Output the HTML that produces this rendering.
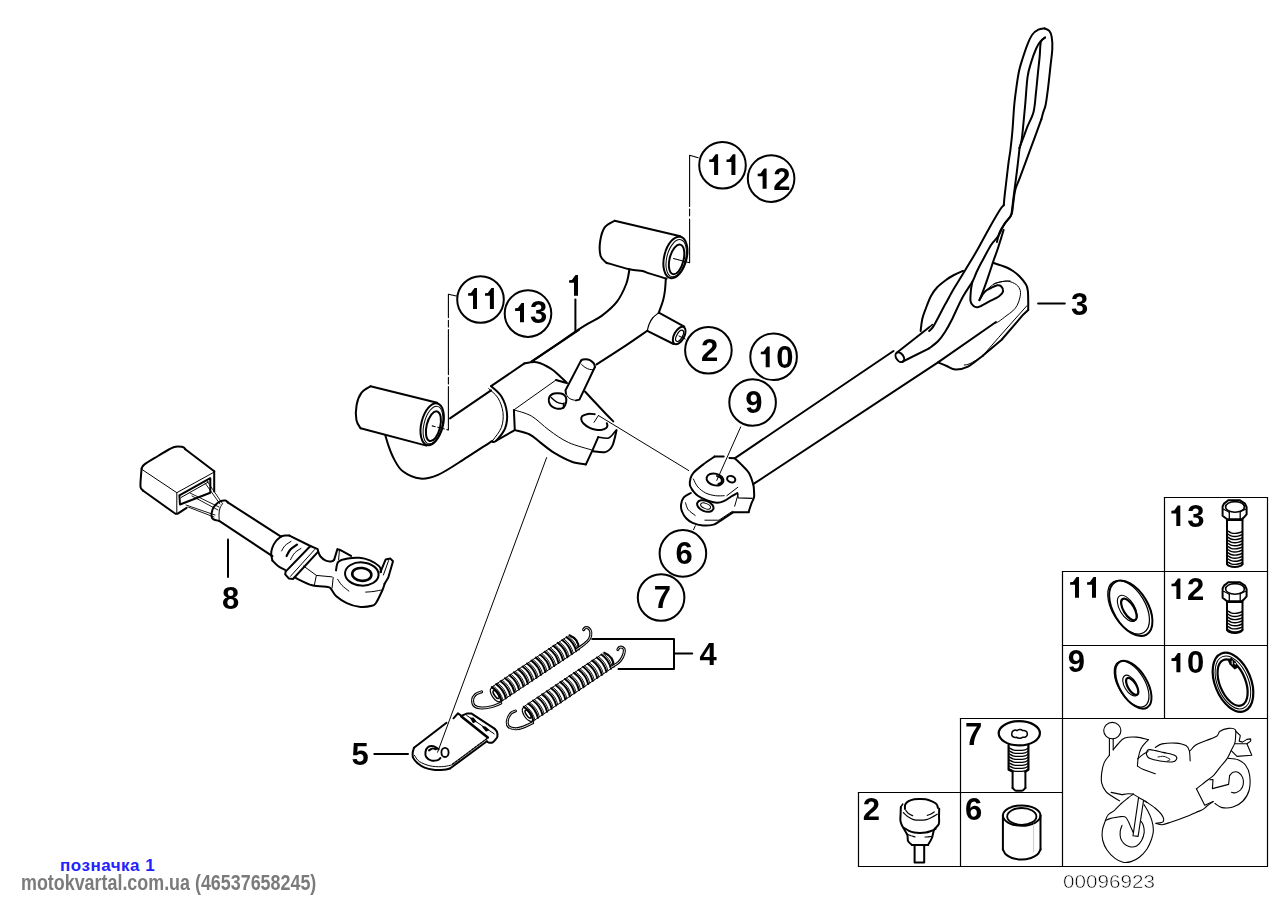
<!DOCTYPE html>
<html><head><meta charset="utf-8"><style>
html,body{margin:0;padding:0;background:#fff;width:1287px;height:911px;overflow:hidden}
svg{display:block;position:absolute;left:0;top:0;filter:grayscale(1)}
.t1{position:absolute;left:60px;top:856px;font:bold 17px "Liberation Sans",sans-serif;color:#2222ff;white-space:nowrap;letter-spacing:0.5px;line-height:20px}
.t2{position:absolute;left:21px;top:871px;font:bold 21.5px "Liberation Sans",sans-serif;color:#7b7b7b;white-space:nowrap;transform:scaleX(0.832);transform-origin:0 0;line-height:25px;filter:grayscale(1)}
</style></head><body>
<svg width="1287" height="911" viewBox="0 0 1287 911">
<g fill="none" stroke="#000" stroke-linejoin="round" stroke-linecap="round">
<line x1="1164.5" y1="497.5" x2="1267.5" y2="497.5" stroke-width="1.2"/>
<line x1="1062.5" y1="571.5" x2="1267.5" y2="571.5" stroke-width="1.2"/>
<line x1="1062.5" y1="645.5" x2="1267.5" y2="645.5" stroke-width="1.2"/>
<line x1="960.5" y1="718.5" x2="1267.5" y2="718.5" stroke-width="1.2"/>
<line x1="858.5" y1="792.5" x2="1062.5" y2="792.5" stroke-width="1.2"/>
<line x1="858.5" y1="866.5" x2="1267.5" y2="866.5" stroke-width="1.2"/>
<line x1="1267.5" y1="497.5" x2="1267.5" y2="866.5" stroke-width="1.2"/>
<line x1="1164.5" y1="497.5" x2="1164.5" y2="718.5" stroke-width="1.2"/>
<line x1="1062.5" y1="571.5" x2="1062.5" y2="866.5" stroke-width="1.2"/>
<line x1="960.5" y1="718.5" x2="960.5" y2="866.5" stroke-width="1.2"/>
<line x1="858.5" y1="792.5" x2="858.5" y2="866.5" stroke-width="1.2"/>
<path d="M1177.8,505.5 L1180.3,505.5 L1180.3,526 L1176.3,526 L1176.3,513.4 L1171.4,513.4 L1171.4,510.8 L1174.2,510.6Z" fill="#000" stroke="none"/>
<path d="M1076.5,576.9 L1079,576.9 L1079,597.8 L1075,597.8 L1075,584.8 L1070.1,584.8 L1070.1,582.2 L1072.9,582Z" fill="#000" stroke="none"/>
<path d="M1093.5,576.9 L1096,576.9 L1096,597.8 L1092,597.8 L1092,584.8 L1087.1,584.8 L1087.1,582.2 L1089.9,582Z" fill="#000" stroke="none"/>
<path d="M1177.9,578.4 L1180.4,578.4 L1180.4,599 L1176.4,599 L1176.4,586.3 L1171.5,586.3 L1171.5,583.7 L1174.3,583.5Z" fill="#000" stroke="none"/>
<path d="M1177.9,653 L1180.4,653 L1180.4,672.3 L1176.4,672.3 L1176.4,660.9 L1171.5,660.9 L1171.5,658.3 L1174.3,658.1Z" fill="#000" stroke="none"/>
<path d="M1222.6,506.5 L1224,503.6 L1228.3,500.3 L1240,500.3 L1245,503.6 L1246.6,507.2 L1246.6,514.3 L1243.5,517.9 L1241.4,519.3 L1227.1,519.3 L1222.6,515.7Z" stroke-width="2" fill="none"/>
<ellipse cx="1235" cy="506.9" rx="9.4" ry="5.3" stroke-width="1.6" fill="none"/>
<line x1="1229.3" y1="512.2" x2="1229.3" y2="519" stroke-width="1.3"/>
<line x1="1240.2" y1="511.6" x2="1240.2" y2="519" stroke-width="1.3"/>
<line x1="1223.6" y1="509.3" x2="1229.3" y2="512.2" stroke-width="1.2"/>
<line x1="1240.2" y1="511.6" x2="1245.7" y2="509.3" stroke-width="1.2"/>
<path d="M1227,519.5 L1227,564" stroke-width="2" fill="none"/>
<path d="M1242.5,519.5 L1242.5,564" stroke-width="2" fill="none"/>
<path d="M1227,564 C1227.3,564.3 1227.7,565.4 1229,565.9 C1230.3,566.4 1232.9,567 1234.8,567 C1236.7,567 1239.2,566.4 1240.5,565.9 C1241.8,565.4 1242.2,564.3 1242.5,564" stroke-width="2" fill="none"/>
<line x1="1227" y1="520.2" x2="1242.5" y2="520.2" stroke-width="1.6"/>
<path d="M1228,531 C1228.5,531.3 1229.8,532.4 1231,532.8 C1232.2,533.2 1233.7,533.4 1235,533.4 C1236.3,533.4 1237.8,533.1 1239,532.8 C1240.2,532.5 1241.5,531.8 1242,531.6" stroke-width="1.4" fill="none"/>
<path d="M1228,534.1 C1228.5,534.4 1229.8,535.5 1231,535.9 C1232.2,536.3 1233.7,536.5 1235,536.5 C1236.3,536.5 1237.8,536.2 1239,535.9 C1240.2,535.6 1241.5,534.9 1242,534.7" stroke-width="1.4" fill="none"/>
<path d="M1228,537.2 C1228.5,537.5 1229.8,538.6 1231,539 C1232.2,539.4 1233.7,539.6 1235,539.6 C1236.3,539.6 1237.8,539.3 1239,539 C1240.2,538.7 1241.5,538 1242,537.8" stroke-width="1.4" fill="none"/>
<path d="M1228,540.3 C1228.5,540.6 1229.8,541.7 1231,542.1 C1232.2,542.5 1233.7,542.7 1235,542.7 C1236.3,542.7 1237.8,542.4 1239,542.1 C1240.2,541.8 1241.5,541.1 1242,540.9" stroke-width="1.4" fill="none"/>
<path d="M1228,543.4 C1228.5,543.7 1229.8,544.8 1231,545.2 C1232.2,545.6 1233.7,545.8 1235,545.8 C1236.3,545.8 1237.8,545.5 1239,545.2 C1240.2,544.9 1241.5,544.2 1242,544" stroke-width="1.4" fill="none"/>
<path d="M1228,546.5 C1228.5,546.8 1229.8,547.9 1231,548.3 C1232.2,548.7 1233.7,548.9 1235,548.9 C1236.3,548.9 1237.8,548.6 1239,548.3 C1240.2,548 1241.5,547.3 1242,547.1" stroke-width="1.4" fill="none"/>
<path d="M1228,549.6 C1228.5,549.9 1229.8,551 1231,551.4 C1232.2,551.8 1233.7,552 1235,552 C1236.3,552 1237.8,551.7 1239,551.4 C1240.2,551.1 1241.5,550.4 1242,550.2" stroke-width="1.4" fill="none"/>
<path d="M1228,552.7 C1228.5,553 1229.8,554.1 1231,554.5 C1232.2,554.9 1233.7,555.1 1235,555.1 C1236.3,555.1 1237.8,554.8 1239,554.5 C1240.2,554.2 1241.5,553.5 1242,553.3" stroke-width="1.4" fill="none"/>
<path d="M1228,555.8 C1228.5,556.1 1229.8,557.2 1231,557.6 C1232.2,558 1233.7,558.2 1235,558.2 C1236.3,558.2 1237.8,557.9 1239,557.6 C1240.2,557.3 1241.5,556.6 1242,556.4" stroke-width="1.4" fill="none"/>
<path d="M1228,558.9 C1228.5,559.2 1229.8,560.3 1231,560.7 C1232.2,561.1 1233.7,561.3 1235,561.3 C1236.3,561.3 1237.8,561 1239,560.7 C1240.2,560.4 1241.5,559.7 1242,559.5" stroke-width="1.4" fill="none"/>
<path d="M1228,562 C1228.5,562.3 1229.8,563.4 1231,563.8 C1232.2,564.2 1233.7,564.4 1235,564.4 C1236.3,564.4 1237.8,564.1 1239,563.8 C1240.2,563.5 1241.5,562.8 1242,562.6" stroke-width="1.4" fill="none"/>
<path d="M1222.6,588.5 L1224,585.6 L1228.3,582.3 L1240,582.3 L1245,585.6 L1246.6,589.2 L1246.6,596.3 L1243.5,599.9 L1241.4,601.3 L1227.1,601.3 L1222.6,597.7Z" stroke-width="2" fill="none"/>
<ellipse cx="1235" cy="588.9" rx="9.4" ry="5.3" stroke-width="1.6" fill="none"/>
<line x1="1229.3" y1="594.2" x2="1229.3" y2="601" stroke-width="1.3"/>
<line x1="1240.2" y1="593.6" x2="1240.2" y2="601" stroke-width="1.3"/>
<line x1="1223.6" y1="591.3" x2="1229.3" y2="594.2" stroke-width="1.2"/>
<line x1="1240.2" y1="593.6" x2="1245.7" y2="591.3" stroke-width="1.2"/>
<path d="M1227,601.5 L1227,629.9" stroke-width="2" fill="none"/>
<path d="M1242.5,601.5 L1242.5,629.9" stroke-width="2" fill="none"/>
<path d="M1227,629.9 C1227.3,630.2 1227.7,631.3 1229,631.8 C1230.3,632.3 1232.9,632.9 1234.8,632.9 C1236.7,632.9 1239.2,632.3 1240.5,631.8 C1241.8,631.3 1242.2,630.2 1242.5,629.9" stroke-width="2" fill="none"/>
<line x1="1227" y1="602.2" x2="1242.5" y2="602.2" stroke-width="1.6"/>
<path d="M1228,611 C1228.5,611.3 1229.8,612.4 1231,612.8 C1232.2,613.2 1233.7,613.4 1235,613.4 C1236.3,613.4 1237.8,613.1 1239,612.8 C1240.2,612.5 1241.5,611.8 1242,611.6" stroke-width="1.4" fill="none"/>
<path d="M1228,614.1 C1228.5,614.4 1229.8,615.5 1231,615.9 C1232.2,616.3 1233.7,616.5 1235,616.5 C1236.3,616.5 1237.8,616.2 1239,615.9 C1240.2,615.6 1241.5,614.9 1242,614.7" stroke-width="1.4" fill="none"/>
<path d="M1228,617.2 C1228.5,617.5 1229.8,618.6 1231,619 C1232.2,619.4 1233.7,619.6 1235,619.6 C1236.3,619.6 1237.8,619.3 1239,619 C1240.2,618.7 1241.5,618 1242,617.8" stroke-width="1.4" fill="none"/>
<path d="M1228,620.3 C1228.5,620.6 1229.8,621.7 1231,622.1 C1232.2,622.5 1233.7,622.7 1235,622.7 C1236.3,622.7 1237.8,622.4 1239,622.1 C1240.2,621.8 1241.5,621.1 1242,620.9" stroke-width="1.4" fill="none"/>
<path d="M1228,623.4 C1228.5,623.7 1229.8,624.8 1231,625.2 C1232.2,625.6 1233.7,625.8 1235,625.8 C1236.3,625.8 1237.8,625.5 1239,625.2 C1240.2,624.9 1241.5,624.2 1242,624" stroke-width="1.4" fill="none"/>
<path d="M1228,626.5 C1228.5,626.8 1229.8,627.9 1231,628.3 C1232.2,628.7 1233.7,628.9 1235,628.9 C1236.3,628.9 1237.8,628.6 1239,628.3 C1240.2,628 1241.5,627.3 1242,627.1" stroke-width="1.4" fill="none"/>
<path d="M1228,629.6 C1228.5,629.9 1229.8,631 1231,631.4 C1232.2,631.8 1233.7,632 1235,632 C1236.3,632 1237.8,631.7 1239,631.4 C1240.2,631.1 1241.5,630.4 1242,630.2" stroke-width="1.4" fill="none"/>
<ellipse cx="1130.8" cy="608.3" rx="17.3" ry="30.6" stroke-width="2" fill="none" transform="rotate(-31 1130.8 608.3)"/>
<ellipse cx="1128.6" cy="607.2" rx="16.6" ry="29.6" stroke-width="1.2" fill="none" transform="rotate(-31 1128.6 607.2)"/>
<ellipse cx="1127.2" cy="608.4" rx="7.4" ry="14.6" stroke-width="1.1" fill="none" transform="rotate(-31 1127.2 608.4)"/>
<ellipse cx="1128.9" cy="609.4" rx="5.4" ry="12.2" stroke-width="2.2" fill="none" transform="rotate(-31 1128.9 609.4)"/>
<ellipse cx="1133.4" cy="684.8" rx="13.8" ry="26.6" stroke-width="2" fill="none" transform="rotate(-31 1133.4 684.8)"/>
<ellipse cx="1131.6" cy="684" rx="13.2" ry="25.6" stroke-width="1.2" fill="none" transform="rotate(-31 1131.6 684)"/>
<ellipse cx="1130.6" cy="685.6" rx="6" ry="11.6" stroke-width="1.1" fill="none" transform="rotate(-31 1130.6 685.6)"/>
<ellipse cx="1132.2" cy="686.4" rx="4.2" ry="9.6" stroke-width="2.2" fill="none" transform="rotate(-31 1132.2 686.4)"/>
<ellipse cx="1233" cy="682.2" rx="18" ry="31" stroke-width="2.2" fill="none" transform="rotate(-22 1233 682.2)"/>
<ellipse cx="1232.6" cy="682.6" rx="12.9" ry="24.4" stroke-width="2.2" fill="none" transform="rotate(-22 1232.6 682.6)"/>
<ellipse cx="1232.9" cy="682.4" rx="15.6" ry="27.8" stroke-width="1.0" fill="none" transform="rotate(-22 1232.9 682.4)"/>
<path d="M1227.4,659.6 L1231.4,657.8 L1235.6,661.4 L1238.2,667.6 L1234.6,669.6 L1229.6,664.6 Z" fill="#000" stroke="none"/>
<path d="M1231.6,660.8 L1232.6,660.6 L1232.8,664.4 L1231.8,664.2 Z M1234.4,662.4 L1236,663.4 L1235.8,664.8 L1234.4,664 Z" fill="#fff" stroke="none"/>
<ellipse cx="1019.3" cy="733.3" rx="20.6" ry="12.1" stroke-width="2.2" fill="none"/>
<path d="M1008.6,745 L1008.6,769.8 L1012.6,771.6" stroke-width="2.2" fill="none"/>
<path d="M1028.4,745 L1028.4,769.8 L1025.4,771.6" stroke-width="2.2" fill="none"/>
<path d="M1009.5,748 C1010.1,748.3 1011.4,749.4 1013,749.8 C1014.6,750.2 1017,750.4 1019,750.4 C1021,750.4 1023.6,750.1 1025,749.8 C1026.4,749.5 1027.2,748.6 1027.6,748.4" stroke-width="1.3" fill="none"/>
<path d="M1009.5,751 C1010.1,751.3 1011.4,752.4 1013,752.8 C1014.6,753.2 1017,753.4 1019,753.4 C1021,753.4 1023.6,753.1 1025,752.8 C1026.4,752.5 1027.2,751.6 1027.6,751.4" stroke-width="1.3" fill="none"/>
<path d="M1009.5,754 C1010.1,754.3 1011.4,755.4 1013,755.8 C1014.6,756.2 1017,756.4 1019,756.4 C1021,756.4 1023.6,756.1 1025,755.8 C1026.4,755.5 1027.2,754.6 1027.6,754.4" stroke-width="1.3" fill="none"/>
<path d="M1009.5,757 C1010.1,757.3 1011.4,758.4 1013,758.8 C1014.6,759.2 1017,759.4 1019,759.4 C1021,759.4 1023.6,759.1 1025,758.8 C1026.4,758.5 1027.2,757.6 1027.6,757.4" stroke-width="1.3" fill="none"/>
<path d="M1009.5,760 C1010.1,760.3 1011.4,761.4 1013,761.8 C1014.6,762.2 1017,762.4 1019,762.4 C1021,762.4 1023.6,762.1 1025,761.8 C1026.4,761.5 1027.2,760.6 1027.6,760.4" stroke-width="1.3" fill="none"/>
<path d="M1009.5,763 C1010.1,763.3 1011.4,764.4 1013,764.8 C1014.6,765.2 1017,765.4 1019,765.4 C1021,765.4 1023.6,765.1 1025,764.8 C1026.4,764.5 1027.2,763.6 1027.6,763.4" stroke-width="1.3" fill="none"/>
<path d="M1009.5,766 C1010.1,766.3 1011.4,767.4 1013,767.8 C1014.6,768.2 1017,768.4 1019,768.4 C1021,768.4 1023.6,768.1 1025,767.8 C1026.4,767.5 1027.2,766.6 1027.6,766.4" stroke-width="1.3" fill="none"/>
<path d="M1009.5,769 C1010.1,769.3 1011.4,770.4 1013,770.8 C1014.6,771.2 1017,771.4 1019,771.4 C1021,771.4 1023.6,771.1 1025,770.8 C1026.4,770.5 1027.2,769.6 1027.6,769.4" stroke-width="1.3" fill="none"/>
<path d="M1012.6,771.4 L1012.6,788" stroke-width="2" fill="none"/>
<path d="M1025.4,771.4 L1025.4,788" stroke-width="2" fill="none"/>
<path d="M1012.6,788 C1013,788.4 1013.9,789.8 1015,790.3 C1016.1,790.8 1017.7,790.8 1019,790.8 C1020.3,790.8 1021.9,790.8 1023,790.3 C1024.1,789.8 1025,788.4 1025.4,788" stroke-width="2" fill="none"/>
<path d="M1011.8,733.6 C1011.8,730.5 1015,729.4 1017,730.6 C1018,729.2 1021.5,729 1022.5,730.6 C1025,729.8 1027.6,731.6 1027.2,733.8 C1027.8,736 1025,737.8 1022.6,737.2 C1021.5,738.6 1018,738.8 1016.8,737.2 C1014.2,738 1011.2,736.4 1011.8,733.6 Z" stroke-width="1.5" fill="none"/>
<path d="M900.8,807 C900.8,808.2 900.7,811.8 900.6,814 C900.5,816.2 900.2,818.5 900.4,820.3 C900.6,822.1 901.1,823.3 901.6,824.6 C902.1,825.9 902.5,826.3 903.4,828 C904.3,829.7 906.5,832.7 907.3,834.9 C908.1,837.1 907.3,839.4 908.1,841.1 C908.9,842.8 911.3,844.3 911.9,844.9" stroke-width="2" fill="none"/>
<path d="M939.2,808.8 C939.2,810 939.1,813.4 939,816 C938.9,818.6 939.6,821.9 938.8,824.2 C938,826.5 935.4,827.3 934.2,829.6 C933.1,831.9 932.9,835.5 931.9,838 C930.9,840.5 928.6,843.8 928,844.9" stroke-width="2" fill="none"/>
<path d="M911.9,844.9 L928,844.9" stroke-width="2" fill="none"/>
<path d="M905,809 C905,808.3 904.6,805.9 905.2,804.6 C905.8,803.3 907.1,802.1 908.6,801.2 C910.1,800.3 912.3,799.6 914.2,799.2 C916.1,798.8 918.1,798.9 920,798.9 C921.9,798.9 923.7,798.8 925.7,799.2 C927.7,799.6 930.2,800.6 932,801.4 C933.8,802.2 935.5,803.1 936.5,804.2 C937.5,805.3 937.8,807.4 938,808" stroke-width="2" fill="none"/>
<path d="M900.8,807 L902.8,804" stroke-width="1.4" fill="none"/>
<path d="M905.8,810.4 C906.3,810.9 907.5,812.7 908.6,813.6 C909.8,814.5 912,815.4 912.7,815.7" stroke-width="1.2" fill="none"/>
<path d="M927.3,815.4 C927.9,815.2 929.9,814.6 931,814 C932.1,813.4 933.7,812.2 934.2,811.9" stroke-width="1.2" fill="none"/>
<path d="M903.4,812.7 C904.2,813.4 906.3,815.6 908,816.8 C909.7,817.9 911.4,819 913.4,819.6 C915.4,820.2 917.8,820.2 920,820.2 C922.2,820.2 924.5,820.1 926.5,819.6 C928.5,819.1 930.2,818.1 932,817.2 C933.8,816.3 936.3,814.7 937.2,814.2" stroke-width="1.2" fill="none"/>
<path d="M904.2,828 C905,828.5 907.3,830 909,830.8 C910.7,831.6 912.4,832.2 914.2,832.6 C916,833 918.1,833 920,833 C921.9,833 923.9,832.9 925.7,832.6 C927.5,832.3 929.3,831.6 931,831 C932.7,830.4 934.9,829.2 935.7,828.8" stroke-width="2" fill="none"/>
<path d="M907.3,834.2 C907.9,834.5 909.7,835.3 911,835.8 C912.3,836.2 914.3,836.7 915,836.9" stroke-width="1.2" fill="none"/>
<path d="M925,837 C925.6,837 927.4,836.9 928.4,836.8 C929.4,836.7 930.6,836.5 931.1,836.5" stroke-width="1.2" fill="none"/>
<path d="M914.6,845 L914.6,862.4 L924.2,862.4 L924.2,845" stroke-width="2" fill="none"/>
<ellipse cx="1021.7" cy="815.6" rx="18.8" ry="10.2" stroke-width="2" fill="none"/>
<ellipse cx="1021.8" cy="816.4" rx="14.6" ry="8.4" stroke-width="1.8" fill="none"/>
<path d="M1002.9,815.6 L1002.9,849.4" stroke-width="2" fill="none"/>
<path d="M1040.5,815.6 L1040.5,849.4" stroke-width="2" fill="none"/>
<path d="M1002.9,849.4 C1003.4,850.3 1004.5,853.2 1006,854.6 C1007.5,856 1009.4,857.2 1012,858 C1014.6,858.8 1018.6,859.6 1021.8,859.6 C1025,859.6 1028.4,858.8 1031,858 C1033.6,857.2 1035.8,856 1037.4,854.6 C1039,853.2 1040,850.3 1040.5,849.4" stroke-width="2" fill="none"/>
<line x1="1033.6" y1="824" x2="1033.6" y2="852" stroke-width="0.8" stroke="#bbb"/>
<ellipse cx="1112.3" cy="730.6" rx="8.6" ry="8.2" stroke-width="1.1" fill="none"/>
<line x1="1109.4" y1="738.6" x2="1109.4" y2="755.2" stroke-width="1.1"/>
<line x1="1113.2" y1="739.2" x2="1113.2" y2="749.8" stroke-width="1.1"/>
<path d="M1113.2,749.8 C1114,748.8 1116.1,746 1118,744 C1119.9,742 1121.6,739.1 1124.7,738 C1127.8,736.9 1132.6,736.8 1136.6,737.1 C1140.6,737.4 1146.5,739.3 1148.5,739.7" stroke-width="1.1" fill="none"/>
<path d="M1148.5,739.7 C1147.9,740.3 1146.4,741.6 1145.1,743.1 C1143.8,744.6 1141.9,746.6 1140.8,749 C1139.7,751.4 1138.9,754.7 1138.3,757.5 C1137.7,760.3 1137.6,764.6 1137.4,766" stroke-width="1.1" fill="none"/>
<path d="M1137.4,766 C1138.4,766.6 1140.4,768.2 1143.4,769.5 C1146.4,770.8 1153.3,773 1155.3,773.7" stroke-width="1.1" fill="none"/>
<path d="M1109.4,755.2 C1108.5,756.4 1105.5,759.7 1104.2,762.6 C1102.9,765.5 1102.1,769.5 1101.7,772.9 C1101.3,776.3 1101,780 1101.7,783.1 C1102.4,786.2 1104.2,789.3 1106,791.6 C1107.8,793.9 1110.5,795.2 1112.8,796.7 C1115.1,798.2 1118.5,800.2 1119.6,800.9" stroke-width="1.1" fill="none"/>
<path d="M1147,751 C1147.5,750.8 1147.3,749.4 1150,749.6 C1152.7,749.8 1158.8,751.4 1163,752.4 C1167.2,753.4 1172.8,754.2 1175,755.4 C1177.2,756.6 1176.9,758.5 1176.4,759.6 C1175.9,760.7 1174.7,761.8 1172,762 C1169.3,762.2 1163.7,761.6 1160,761 C1156.3,760.4 1152.2,759.6 1150,758.6 C1147.8,757.6 1147.1,756.3 1146.6,755 C1146.1,753.7 1146.9,751.7 1147,751" stroke-width="1.1" fill="none"/>
<path d="M1155.3,747.4 C1156.4,746.8 1158.7,744.6 1162.1,743.9 C1165.5,743.2 1171.7,742.8 1175.7,743.1 C1179.7,743.4 1183.6,744.3 1185.9,745.6 C1188.2,746.9 1188.6,748.2 1189.3,750.7 C1190,753.2 1190,759.2 1190.2,760.9" stroke-width="1.1" fill="none"/>
<path d="M1137.6,759 C1138.5,758.2 1141.3,755.6 1143,754.4 C1144.7,753.2 1147.2,752.1 1148,751.6" stroke-width="1.1" fill="none"/>
<path d="M1158,757 C1159,756.9 1162,756 1164,756.4 C1166,756.8 1169.5,758.6 1170,759.4 C1170.5,760.2 1167.5,760.9 1167,761.2" stroke-width="0.9" fill="none"/>
<path d="M1190.2,750.7 C1191.2,749.7 1193.4,746.5 1196.1,744.8 C1198.8,743.1 1203,741.9 1206.4,740.5 C1209.8,739.1 1214.3,737.8 1216.6,736.3 C1218.9,734.8 1218,732.5 1220,731.2 C1222,729.9 1226,728.7 1228.5,728.4 C1231,728.1 1234,728.3 1235.2,729.6 C1236.4,730.9 1235.7,733.7 1235.6,736 C1235.5,738.3 1235.5,740.9 1234.8,743.2 C1234.1,745.5 1232.8,747.2 1231.5,749.8 C1230.2,752.4 1229,755.7 1227.1,758.6 C1225.2,761.5 1222.2,764.6 1220,767.4 C1217.8,770.1 1215.8,773.1 1213.9,775.1 C1212,777.1 1211.3,777.2 1208.4,779.5 C1205.5,781.8 1198.4,787.2 1196.4,788.8" stroke-width="1.1" fill="none"/>
<path d="M1196.4,788.8 L1204.7,805.2 L1213.2,801.6" stroke-width="1.1" fill="none"/>
<path d="M1235.6,731 L1240.3,735.6 L1239.2,741.1 L1242.5,742.1 L1246.9,739.4 L1250.7,738.9 L1250.7,741.1 L1246.9,743.8 L1251.8,755.3 L1237,756.4 L1231.5,750.9" stroke-width="1.1" fill="none"/>
<path d="M1234.8,743.8 L1246.9,743.8" stroke-width="1.1" fill="none"/>
<path d="M1228.5,758.4 C1230.1,758.6 1235.2,758.7 1238,759.8 C1240.8,760.9 1243.5,762.5 1245.4,765 C1247.3,767.5 1249,770.8 1249.6,775 C1250.2,779.2 1250.3,785.7 1249.2,790 C1248.1,794.3 1245.7,798.2 1243,801 C1240.3,803.8 1236.5,805.9 1233,807 C1229.5,808.1 1225,808.2 1222,807.6 C1219,807 1216.1,804.2 1214.9,803.5" stroke-width="1.1" fill="none"/>
<path d="M1229.6,775.6 C1230.2,775 1231.5,772.7 1233,772.2 C1234.5,771.7 1236.8,771.5 1238.4,772.4 C1240,773.3 1241.8,775.4 1242.6,777.4 C1243.4,779.4 1243.6,782.5 1243.2,784.6 C1242.8,786.7 1241.7,788.6 1240.4,790 C1239.1,791.4 1237.1,792.4 1235.6,792.8 C1234.1,793.2 1232.1,792.3 1231.4,792.2" stroke-width="1.1" fill="none"/>
<path d="M1229.6,775.6 L1228.6,784.4 L1212.4,788.6 L1213,779.6 L1209.8,779.7" stroke-width="1.1" fill="none"/>
<path d="M1213.2,801.6 C1212.2,802.3 1208.7,804.7 1207,806 C1205.3,807.3 1204.8,808.3 1203,809.4 C1201.2,810.5 1198.3,811.4 1196,812.4 C1193.7,813.4 1193.5,813.8 1189.3,815.4 C1185.1,817 1175.1,820.7 1170.6,822.2 C1166.1,823.8 1164.5,824.5 1162.1,824.7 C1159.7,824.9 1157,823.6 1156,823.4" stroke-width="1.1" fill="none"/>
<path d="M1156,823.4 C1157.2,823.1 1162.2,822.9 1163.2,821.6 C1164.2,820.3 1163.5,817.7 1162.1,815.4 C1160.7,813.1 1157.8,810.4 1155,808 C1152.2,805.6 1146.8,802.1 1145.1,800.9" stroke-width="1.1" fill="none"/>
<path d="M1105.4,820.6 C1104.9,822.2 1102.9,826.8 1102.4,830 C1101.9,833.2 1101.8,836.7 1102.6,840 C1103.4,843.3 1104.9,846.9 1107,850 C1109.1,853.1 1112.3,856.4 1115,858.4 C1117.7,860.4 1120.3,861.7 1123,862.2 C1125.7,862.7 1128.3,862.4 1131,861.6 C1133.7,860.8 1136.7,859.3 1139.4,857.2 C1142.1,855.1 1145,852 1147,849 C1149,846 1150.5,842.2 1151.6,839 C1152.7,835.8 1153.4,833.2 1153.4,830 C1153.4,826.8 1152.6,822.8 1151.6,819.6 C1150.6,816.4 1148.9,813.1 1147.6,810.6 C1146.3,808.1 1144.6,805.6 1144,804.6" stroke-width="1.1" fill="none"/>
<path d="M1122,825.4 C1121.7,826.4 1120.4,829.3 1120.2,831.4 C1120,833.5 1120,836.2 1120.6,838.2 C1121.2,840.2 1122.5,842.2 1124,843.6 C1125.5,845 1127.7,846.4 1129.8,846.8 C1131.9,847.2 1134.6,847 1136.6,846 C1138.6,845 1140.3,842.9 1141.6,840.6 C1142.9,838.3 1143.9,834.9 1144.2,832.4 C1144.5,829.9 1143.9,827.4 1143.4,825.6 C1142.9,823.8 1141.7,822.3 1141.4,821.6" stroke-width="1.1" fill="none"/>
<path d="M1105.4,820.6 C1106.2,820.3 1108.2,819.1 1110,818.6 C1111.8,818.1 1114.4,817.7 1116.2,817.4 C1118,817.1 1119.5,816.6 1121,816.6 C1122.5,816.6 1124.2,816.2 1125.5,817.1 C1126.8,818 1127.7,820.2 1128.6,822 C1129.5,823.8 1130.2,825.9 1131,827.6 C1131.8,829.3 1132.8,831.6 1133.2,832.4" stroke-width="1.1" fill="none"/>
<path d="M1105.4,820.6 C1105.8,819.7 1106.5,816.7 1108,815 C1109.5,813.3 1112.3,812.2 1114.5,810.3 C1116.7,808.4 1119,805.5 1121.3,803.5 C1123.5,801.5 1126,799.6 1128,798 C1130,796.4 1132.3,794.8 1133.2,794.1" stroke-width="1.1" fill="none"/>
<line x1="1111.1" y1="792.4" x2="1122" y2="794.6" stroke-width="1.1"/>
<path d="M1122,794.6 C1123,794.5 1126.1,793.9 1128,793.8 C1129.9,793.7 1132.3,794 1133.2,794.1" stroke-width="1.1" fill="none"/>
<path d="M1138.6,797.4 L1133,835.8 L1138.1,836.4 L1143.6,800.2" stroke-width="1.1" fill="none"/>
<path d="M1133.2,794.1 L1138.6,797.4 L1143.6,800.2 L1147,802.6" stroke-width="1.1" fill="none"/>
<path d="M437.2,402.8 L370.5,386.3" stroke-width="2" fill="none"/>
<path d="M370.5,386.3 C369,387.4 363.7,389.8 361.4,392.9 C359.1,396 357.4,400.5 356.6,405 C355.8,409.5 355.7,416.1 356.4,420 C357.1,423.9 359.9,426.9 360.6,428.3" stroke-width="2" fill="none"/>
<path d="M360.6,428.3 L426.4,445.6" stroke-width="2" fill="none"/>
<ellipse cx="432.2" cy="424.2" rx="10.8" ry="21.4" stroke-width="2" fill="none" transform="rotate(14 432.2 424.2)"/>
<ellipse cx="433" cy="425" rx="9" ry="19.2" stroke-width="1" fill="none" transform="rotate(14 433 425)"/>
<ellipse cx="433.4" cy="426.2" rx="6.8" ry="15.2" stroke-width="2" fill="none" transform="rotate(14 433.4 426.2)"/>
<path d="M614.6,220.7 L680.4,236.3" stroke-width="2" fill="none"/>
<path d="M614.6,220.7 C613,221.8 607.1,223.9 604.7,227.3 C602.3,230.7 600.9,236.2 600.2,241 C599.5,245.8 599.6,252.4 600.6,256 C601.6,259.6 605.3,261.6 606.3,262.7" stroke-width="2" fill="none"/>
<path d="M606.3,262.7 C610.1,263.8 623.3,267.9 629.4,269.3 C635.5,270.7 639.3,270.3 642.6,271 C645.9,271.7 645.2,272.1 649.2,273.4 C653.2,274.7 663.7,277.7 666.6,278.6" stroke-width="2" fill="none"/>
<ellipse cx="675.4" cy="257.4" rx="11.2" ry="21.2" stroke-width="2" fill="none" transform="rotate(14 675.4 257.4)"/>
<ellipse cx="676.2" cy="258.2" rx="9.4" ry="19" stroke-width="1" fill="none" transform="rotate(14 676.2 258.2)"/>
<ellipse cx="676.6" cy="259.4" rx="7" ry="15.2" stroke-width="2" fill="none" transform="rotate(14 676.6 259.4)"/>
<path d="M698.2,157.8 L689.6,155.3 L689.6,262.7 L672.2,258.2" stroke-width="1.1" fill="none" stroke-dasharray="60.2 2.4 6.9 3.3"/>
<path d="M456.3,296 L448.4,294.2 L448.4,430 L432.2,425.9" stroke-width="1.1" fill="none" stroke-dasharray="45 2.6 6.8 2.6" stroke-dashoffset="13.5"/>
<path d="M629.4,269.3 C628.9,271.8 628.3,278.6 626.2,284 C624.1,289.4 621,296.3 617,301.6 C613,306.9 606.8,311.9 602,315.6 C597.2,319.3 592.2,321.1 588,323.6 C583.8,326.1 581.2,327.7 576.5,330.8 C571.8,333.9 567.5,337.2 560,342.3 C552.5,347.4 536.2,358.4 531.5,361.6" stroke-width="2" fill="none"/>
<path d="M665.8,278.6 C665.7,280.5 665.4,286.4 665,290 C664.6,293.6 664.2,296.2 663.2,300 C662.2,303.8 659.5,310.6 658.8,312.7" stroke-width="2" fill="none"/>
<path d="M658.8,312.7 L684.3,326.7" stroke-width="2" fill="none"/>
<path d="M658.8,312.7 C657.8,313.6 654.2,316.1 652.6,318 C651,319.9 649.9,322.3 649,324.4 C648.1,326.5 647.6,329.7 647.3,330.8" stroke-width="1.2" fill="none"/>
<path d="M647.3,330.8 L673.6,344" stroke-width="2" fill="none"/>
<ellipse cx="679.2" cy="335.5" rx="5" ry="9.6" stroke-width="2" fill="none" transform="rotate(29 679.2 335.5)"/>
<ellipse cx="679.6" cy="335.8" rx="2.8" ry="6.2" stroke-width="1.2" fill="none" transform="rotate(29 679.6 335.8)"/>
<line x1="679" y1="336" x2="685.1" y2="339" stroke-width="1"/>
<path d="M647.3,330.8 C643.8,333.2 634.5,339.8 626,345.4 C617.5,351 601.5,361.2 596.6,364.4" stroke-width="2" fill="none"/>
<path d="M450,418.4 L491,390.4" stroke-width="2" fill="none"/>
<path d="M385.3,435.2 C385.9,437.1 387.4,442.7 388.8,446.7 C390.2,450.7 391.7,454.9 394,459 C396.3,463.1 398.4,468 402.8,471.3 C407.2,474.6 414.5,478 420.4,478.6 C426.3,479.2 431.6,477.5 438,474.8 C444.4,472.1 449.9,468.2 459,462.5 C468.1,456.8 486.8,444.4 492.4,440.8" stroke-width="2" fill="none"/>
<path d="M491.1,386.2 C492.9,387.9 499,392.3 501.6,396.7 C504.2,401.1 506.3,407.2 506.9,412.5 C507.5,417.8 506.9,423.6 505.1,428.3 C503.3,433 498.4,438.3 496.3,440.6 C494.2,442.9 493.2,441.8 492.6,442" stroke-width="2" fill="none"/>
<path d="M488.6,388.6 C490.2,390.2 495.6,394 498,398 C500.4,402 502.4,407.6 503,412.5 C503.6,417.4 503,422.9 501.4,427.4 C499.8,431.9 494.7,437.6 493.4,439.6" stroke-width="1" fill="none"/>
<path d="M496.3,440.6 L514.8,430.1" stroke-width="2" fill="none"/>
<path d="M491.1,386.2 L524.4,363.4" stroke-width="2" fill="none"/>
<path d="M524.4,363.4 C526.5,363.2 532.3,361.4 536.7,362.3 C541.1,363.2 546.7,366.1 550.8,368.6 C554.9,371.1 558.6,375 561.3,377.4 C564,379.8 566,382.1 567,383" stroke-width="2" fill="none"/>
<path d="M531.5,361.6 L578.9,330" stroke-width="2" fill="none"/>
<path d="M513.9,409.9 L514.8,430.1" stroke-width="2" fill="none"/>
<path d="M513.9,409.9 L556,380 L565.7,382.7" stroke-width="1" fill="none"/>
<path d="M514.8,430.1 C517.3,430.8 525.5,432.4 529.7,434.5 C533.9,436.6 536.1,439.3 540.2,442.4 C544.3,445.5 549,449.7 554.3,452.9 C559.6,456.1 566.6,459.8 571.9,461.7 C577.2,463.6 583.6,463.9 585.9,464.4" stroke-width="2" fill="none"/>
<path d="M585.9,464.4 L592.9,449.4 L598.2,437.1" stroke-width="2" fill="none"/>
<path d="M513.9,409.9 C516.8,410.9 525.6,412.7 531.5,416.1 C537.4,419.5 542.9,425.7 549,430.1 C555.1,434.5 561,439 568.3,442.4 C575.6,445.8 588.8,449 592.9,450.3" stroke-width="1" fill="none"/>
<path d="M598.2,437.1 C600,437.2 605.8,439.1 608.7,438 C611.6,436.9 614.6,431.8 615.8,430.6" stroke-width="1.6" fill="none"/>
<path d="M592.9,451.2 C595,451.4 602,453 605.2,452.1 C608.4,451.2 610.4,449.6 612.3,445.9 C614.2,442.2 615.9,432.7 616.6,430.1" stroke-width="2" fill="none"/>
<path d="M585,391.5 C586.9,393.6 592.9,400.1 596.4,403.8 C599.9,407.6 603.2,411.1 606,414 C608.8,416.9 612.1,420.2 613.3,421.4" stroke-width="2" fill="none"/>
<path d="M557.6,393.2 C558.4,393.3 561.2,393.4 562.6,394 C564,394.6 565.2,395.7 565.8,397 C566.4,398.3 566.4,400 566.2,401.6 C566,403.2 565.1,405.3 564.4,406.4 C563.7,407.5 563.3,408 562,408.4 C560.7,408.8 558.3,409 556.6,408.6 C554.9,408.2 552.9,407.3 551.6,406.2 C550.3,405.1 549.4,403.5 549,402 C548.6,400.5 548.8,398.3 549.4,397 C550,395.7 551.2,394.6 552.6,394 C554,393.4 556.8,393.3 557.6,393.2" stroke-width="2" fill="none"/>
<path d="M551.2,397.4 C552.1,398.2 554.9,401.1 556.8,402.1 C558.7,403.1 561.2,403.5 562.4,403.6 C563.6,403.8 563.9,403.1 564.2,403" stroke-width="1.4" fill="none"/>
<line x1="563.4" y1="403.6" x2="563.6" y2="408" stroke-width="1.4"/>
<path d="M594.7,414.2 C593.6,414.1 590,413.6 587.9,413.9 C585.8,414.2 583.4,415.2 582.3,416.1 C581.2,417.1 581.1,418.4 581.3,419.6 C581.5,420.8 582.1,422.1 583.5,423.5 C584.9,424.9 587.6,426.9 589.7,427.9 C591.8,428.9 593.9,429.4 595.9,429.7 C597.9,430 600.3,430.1 602,429.8 C603.7,429.5 605.3,428.7 606.2,428 C607.1,427.3 607.3,426.4 607.4,425.6 C607.5,424.8 606.9,423.6 606.8,423.2" stroke-width="2" fill="none"/>
<path d="M594.1,422.3 L598.4,415.5" stroke-width="1" fill="none"/>
<path d="M581,360.6 C581.3,360.4 581.8,359.8 583,359.6 C584.2,359.4 586.5,359.3 588,359.6 C589.5,359.9 590.9,360.8 592,361.6 C593.1,362.4 593.9,363.5 594.4,364.4 C594.9,365.3 594.8,366.6 594.9,367" stroke-width="2" fill="none"/>
<path d="M581.6,364.4 C582.2,364.9 583.7,366.6 585,367.4 C586.3,368.2 588.2,369 589.6,369.4 C591,369.8 592.8,369.6 593.4,369.6" stroke-width="1" fill="none"/>
<path d="M581,360.6 L565.5,390.2 L565.9,393.5" stroke-width="2" fill="none"/>
<path d="M565.9,393.5 C566.3,394.1 567.2,396.4 568.2,397.4 C569.2,398.4 570.7,399.1 572,399.6 C573.3,400.1 575.4,400.3 576.1,400.4" stroke-width="1" fill="none"/>
<path d="M594.9,367 L579.4,399.6 L576.1,400.4" stroke-width="2" fill="none"/>
<path d="M556,380 L565.7,382.7" stroke-width="2" fill="none"/>
<line x1="546.6" y1="457.6" x2="437.6" y2="752.2" stroke-width="1"/>
<line x1="598.4" y1="415.5" x2="688.8" y2="470.6" stroke-width="1"/>
<line x1="575.4" y1="299.5" x2="575.4" y2="332" stroke-width="2"/>
<path d="M734.7,458.3 L893.5,351" stroke-width="2" fill="none"/>
<path d="M753.2,484.2 L938,362.4 L996,322" stroke-width="2" fill="none"/>
<path d="M714.5,456.6 L723.7,456.6" stroke-width="2" fill="none"/>
<path d="M729.4,457.9 L734.7,458.3" stroke-width="2" fill="none"/>
<path d="M714.5,456.6 C712.6,457.9 706.5,461.9 703,464.6 C699.5,467.3 695.5,470.4 693.4,472.8 C691.3,475.2 691,476.9 690.4,479 C689.8,481.1 689.5,483.2 689.9,485.1 C690.3,487 692.1,489.5 692.6,490.4" stroke-width="2" fill="none"/>
<path d="M734.7,458.3 C735.9,459.4 739.4,462.5 741.7,464.9 C744.1,467.3 746.9,469.6 748.8,472.8 C750.7,476 752.3,481.1 753.2,484.2 C754.1,487.3 753.9,489.1 754,491.3 C754.1,493.5 754.4,495.3 754,497.4 C753.6,499.4 752.3,501.2 751.4,503.6 C750.5,506 749.2,510.2 748.8,511.5" stroke-width="2" fill="none"/>
<path d="M748.8,512.3 L733,512.3" stroke-width="2" fill="none"/>
<path d="M692.6,490.4 C693.5,491.3 695.5,494.1 697.8,495.7 C700.1,497.3 703.4,498.9 706.6,500.1 C709.8,501.3 714.2,502.6 717.1,502.7 C720,502.8 721.9,501.9 724.2,500.9 C726.6,499.9 729,497.8 731.2,496.5 C733.4,495.2 736.3,493.6 737.3,493" stroke-width="2" fill="none"/>
<path d="M693.4,479 C694.1,480.3 695.8,484.6 697.8,486.9 C699.8,489.2 702.8,491.5 705.7,493 C708.6,494.5 712.3,495.2 715.4,495.7 C718.5,496.1 722.7,495.7 724.2,495.7" stroke-width="1" fill="none"/>
<line x1="726.8" y1="495.7" x2="737.8" y2="487.3" stroke-width="1"/>
<path d="M737.3,493 L738.2,497.9 L752.3,498.3" stroke-width="1.2" fill="none"/>
<line x1="738.2" y1="493.9" x2="734.7" y2="506.2" stroke-width="1"/>
<path d="M690.8,493 C689.6,493.7 685.4,495.5 683.8,497.4 C682.2,499.3 681.4,502 681.1,504.4 C680.8,506.8 681.1,509.1 682,511.5 C682.9,513.9 684.6,516.6 686.4,518.5 C688.2,520.4 689.8,521.7 692.6,522.9 C695.4,524.1 699.6,525.2 703.1,525.5 C706.6,525.8 710.8,525.3 713.6,524.6 C716.4,523.9 717.4,522.6 719.8,521.1 C722.1,519.6 725.5,517.4 727.7,515.9 C729.9,514.4 732.1,512.9 733,512.3" stroke-width="2" fill="none"/>
<path d="M685.5,502.7 C686,503.9 686.6,507.6 688.2,509.7 C689.8,511.8 694,514.4 695.2,515.4" stroke-width="1" fill="none"/>
<path d="M704.9,520.2 L718.9,520.2 L732.1,511.5" stroke-width="1" fill="none"/>
<ellipse cx="715" cy="479.5" rx="8.6" ry="5.8" stroke-width="2" fill="none" transform="rotate(14 715 479.5)"/>
<path d="M717,476 C717.7,476.4 720.2,477.2 721,478.2 C721.8,479.2 722,481 721.6,482 C721.2,483 718.9,483.7 718.4,484" stroke-width="2" fill="none"/>
<ellipse cx="731.2" cy="479.2" rx="4.2" ry="3.1" stroke-width="2" fill="none" transform="rotate(20 731.2 479.2)"/>
<ellipse cx="705.3" cy="506" rx="8.6" ry="5.2" stroke-width="2" fill="none" transform="rotate(22 705.3 506)"/>
<ellipse cx="705.6" cy="506" rx="5.2" ry="2.6" stroke-width="1" fill="none" transform="rotate(22 705.6 506)"/>
<line x1="740.7" y1="426.9" x2="716.8" y2="480.4" stroke-width="1"/>
<path d="M896.7,352.7 L929.2,327.3" stroke-width="2" fill="none"/>
<path d="M902.8,361.5 L929.2,348.3" stroke-width="2" fill="none"/>
<ellipse cx="899.8" cy="357.2" rx="3.6" ry="5.4" stroke-width="2" fill="none" transform="rotate(-35 899.8 357.2)"/>
<line x1="929.2" y1="327.3" x2="932.4" y2="324.6" stroke-width="1.4"/>
<path d="M920.6,331 C920.9,328.9 921.5,322.3 922.4,318.5 C923.3,314.7 924.6,311.8 926,308 C927.4,304.2 929.2,299.4 931,296 C932.8,292.6 934.5,290.2 937,287.5 C939.5,284.8 943.2,282.1 946,280 C948.8,277.9 951.2,276.5 954,275 C956.8,273.5 961.5,271.5 963,270.8" stroke-width="2" fill="none"/>
<path d="M992.8,262.7 C994.9,263.4 1002.2,265.6 1005.6,267 C1009,268.4 1010.6,269.4 1013,271 C1015.4,272.6 1017.7,274.4 1019.9,276.7 C1022.1,279 1024.7,282.3 1026,284.6 C1027.3,286.9 1027.4,288.2 1027.8,290.7 C1028.2,293.2 1028.1,296.3 1028.2,299.5 C1028.3,302.7 1028.2,308.2 1028.2,310" stroke-width="2" fill="none"/>
<path d="M1028.2,310 L1023.4,314.4 L1001.4,340 L983,355.6" stroke-width="2" fill="none"/>
<path d="M983,355.6 C980.5,357.4 972.6,364.3 968,366.6 C963.4,368.9 959,369.5 955.5,369.4 C952,369.3 949.6,367.2 946.7,366 C943.8,364.8 939.5,363 938,362.4" stroke-width="2" fill="none"/>
<path d="M1026.9,305.7 L998.8,337.3 L982,356.6" stroke-width="1" fill="none"/>
<path d="M982,356.6 C980,357.8 973,362.2 970,363.6 C967,365 965.2,364.8 964.3,365" stroke-width="1" fill="none"/>
<path d="M993.6,284.2 C994.5,283.9 996.5,282.9 998.8,282.4 C1001.1,281.9 1004.7,280.7 1007.6,281.1 C1010.5,281.5 1014.2,283 1016.3,284.6 C1018.4,286.2 1019.7,288.5 1020.3,290.7 C1020.9,292.9 1020.3,295.5 1019.8,298 C1019.2,300.5 1018.2,303.5 1017,305.6 C1015.8,307.8 1014.6,309.2 1012.8,310.9 C1011,312.6 1008.3,314.2 1006,316 C1003.7,317.8 1000.6,320.3 998.8,321.5 C997,322.7 995.9,322.9 995.3,323.2" stroke-width="1" fill="none"/>
<path d="M1044.5,28.4 C1043.5,28.6 1040.4,28.7 1038.4,29.7 C1036.4,30.7 1034.2,32.1 1032.4,34.5 C1030.6,36.9 1029.3,39.9 1027.6,44.1 C1025.9,48.3 1023.6,55.4 1022.2,59.8 C1020.8,64.2 1020,66.5 1019.1,70.7 C1018.2,74.9 1017.5,79.6 1016.7,85.2 C1015.9,90.8 1015,97 1014.3,104.5 C1013.6,112 1013.1,122.4 1012.5,130 C1011.9,137.6 1011.1,144.4 1010.4,150 C1009.7,155.6 1009.1,158 1008.4,163.7 C1007.7,169.4 1006.6,178.6 1006,184 C1005.4,189.4 1005,192.5 1004.6,196 C1004.2,199.5 1003.9,203.7 1003.8,205.2" stroke-width="2" fill="none"/>
<path d="M1003.8,205.2 C1003.2,206 1002.4,206 1000,209.8 C997.6,213.6 993,221.5 989.2,228.2 C985.4,234.9 981.3,242.9 977.4,249.8 C973.5,256.7 969.4,263.2 965.6,269.5 C961.8,275.8 958.2,281.4 954.7,287.3 C951.2,293.2 947.8,299.7 944.8,305.1 C941.8,310.6 938.9,316.3 936.9,320 C934.9,323.7 934,325.5 932.7,327.3 C931.4,329.1 929.8,330.4 929.2,331" stroke-width="2" fill="none"/>
<path d="M1044.5,28.4 C1045.3,28.8 1048.1,29.5 1049.3,30.9 C1050.5,32.3 1051.2,33.9 1051.7,36.9 C1052.2,39.9 1052.5,44.2 1052.3,49 C1052.1,53.8 1051.2,59.5 1050.5,65.9 C1049.8,72.3 1048.9,81.2 1048.1,87.6 C1047.3,94 1046.5,100.3 1045.7,104.5 C1044.9,108.7 1043.7,110.5 1043,113 C1042.3,115.5 1041.7,118.2 1041.4,119.2" stroke-width="2" fill="none"/>
<path d="M1041.4,119.2 C1039.6,124.1 1034.3,138.7 1030.7,148.4 C1027.1,158.1 1022.5,170.7 1019.9,177.6 C1017.3,184.5 1016.4,185.2 1015.3,189.8 C1014.1,194.4 1013.6,201.1 1013,205.2 C1012.4,209.3 1012.7,211.6 1011.5,214.4 C1010.3,217.2 1007.9,219.2 1006,222 C1004.1,224.8 1001.5,228 1000,231.3 C998.5,234.6 997.4,240.2 996.9,242" stroke-width="2" fill="none"/>
<path d="M1003.6,230 C1002.7,233 999.8,242.5 998.1,247.8 C996.4,253.1 995,256.3 993.2,261.6 C991.4,266.9 989.1,274.1 987.3,279.4 C985.5,284.7 983.6,289.8 982.3,293.2 C981,296.6 979.9,299 979.4,300.1" stroke-width="2" fill="none"/>
<path d="M979.4,300.1 C979.8,299.4 981,297.1 982,295.6 C983,294.1 983.8,292.5 985.3,291.2 C986.8,289.9 989,289 991,288 C993,287 995.5,285.6 997.2,285.3 C998.9,285 1000.1,285.3 1001.1,286.3 C1002.1,287.3 1003.4,289.6 1003.1,291.2 C1002.8,292.8 1001.5,294.5 999.1,296.2 C996.8,297.9 992.5,299.8 989,301.6 C985.5,303.4 981,306.3 978.4,307 C975.8,307.7 974.8,307 973.5,306 C972.2,305 970.9,303.9 970.5,301.1 C970.1,298.3 970.7,292.6 971,289.3 C971.3,286 972.2,282.7 972.5,281.4" stroke-width="2" fill="none"/>
<path d="M986.3,290.2 C986.9,289.7 988.5,288.1 990,287 C991.5,285.9 993.2,284.2 995.2,283.3 C997.2,282.4 999.5,282 1002,281.6 C1004.5,281.2 1008.7,281 1010,280.9" stroke-width="1" fill="none"/>
<path d="M1019.5,148 C1019.8,146.8 1021,143.7 1021.5,140.7 C1022,137.7 1022.2,136 1022.8,130 C1023.4,124 1024.4,113.4 1025.2,104.5 C1026,95.6 1026.6,83.8 1027.6,76.7 C1028.6,69.7 1029.8,66.8 1031.2,62.2 C1032.6,57.6 1034.5,52.4 1036,49 C1037.5,45.6 1038.8,43.6 1040.3,41.7 C1041.8,39.8 1044.3,38.2 1045.1,37.5" stroke-width="2" fill="none"/>
<path d="M1045.1,37.5 C1044.4,38.2 1041.8,38.6 1040.9,41.7 C1040,44.8 1040.2,50.8 1039.7,56.2 C1039.2,61.6 1038.4,68.3 1037.8,74.3 C1037.2,80.3 1036.7,86.2 1036,92.4 C1035.3,98.6 1035,106.1 1033.6,111.7 C1032.2,117.3 1029.2,122.2 1027.6,126.2 C1026,130.2 1025.3,132.4 1024,136 C1022.6,139.6 1020.2,146 1019.5,148" stroke-width="2" fill="none"/>
<path d="M1019.5,148 C1019.5,148.6 1019.6,147.6 1019.2,151.5 C1018.8,155.4 1017.7,165 1016.9,171.4 C1016.1,177.8 1015.3,183.7 1014.5,189.8 C1013.7,196 1012.8,203.9 1012.2,208.3 C1011.6,212.7 1012,213.4 1010.7,216 C1009.4,218.6 1006.7,220.3 1004.6,223.6 C1002.5,226.9 1000.6,232.4 998.4,235.9 C996.2,239.4 994,240.4 991.2,244.8 C988.4,249.2 983.9,258 981.4,262.6 C978.9,267.2 977.9,269.4 976.4,272.5 C974.9,275.6 974.8,277.3 972.5,281.4 C970.2,285.5 966.1,290.8 962.6,297.2 C959.1,303.6 954.6,314.2 951.7,320 C948.8,325.8 947.3,328.4 945,332 C942.7,335.6 940.6,338.6 938,341.3 C935.4,344 930.7,347.1 929.2,348.3" stroke-width="2" fill="none"/>
<line x1="1038.1" y1="303.6" x2="1064.8" y2="303.6" stroke-width="2"/>
<line x1="695.3" y1="525.8" x2="693.6" y2="529.6" stroke-width="1"/>
<path d="M491.8,687.1 Q499.3,692.4 501.4,701.3" stroke-width="2.0"/>
<path d="M493.4,686 Q500.8,691.4 503,700.3" stroke-width="0.9"/>
<path d="M496.2,684.1 Q503.7,689.5 505.8,698.4" stroke-width="2.0"/>
<path d="M497.8,683.1 Q505.2,688.4 507.4,697.4" stroke-width="0.9"/>
<path d="M500.6,681.2 Q508.1,686.5 510.2,695.5" stroke-width="2.0"/>
<path d="M502.2,680.1 Q509.6,685.5 511.8,694.4" stroke-width="0.9"/>
<path d="M505,678.2 Q512.5,683.6 514.6,692.5" stroke-width="2.0"/>
<path d="M506.6,677.2 Q514,682.5 516.2,691.5" stroke-width="0.9"/>
<path d="M509.4,675.3 Q516.9,680.7 519,689.6" stroke-width="2.0"/>
<path d="M511,674.2 Q518.4,679.6 520.6,688.5" stroke-width="0.9"/>
<path d="M513.8,672.3 Q521.3,677.7 523.4,686.6" stroke-width="2.0"/>
<path d="M515.4,671.3 Q522.8,676.7 525,685.6" stroke-width="0.9"/>
<path d="M518.2,669.4 Q525.7,674.8 527.8,683.7" stroke-width="2.0"/>
<path d="M519.8,668.3 Q527.2,673.7 529.4,682.6" stroke-width="0.9"/>
<path d="M522.6,666.5 Q530.1,671.8 532.2,680.8" stroke-width="2.0"/>
<path d="M524.2,665.4 Q531.6,670.8 533.8,679.7" stroke-width="0.9"/>
<path d="M527,663.5 Q534.5,668.9 536.6,677.8" stroke-width="2.0"/>
<path d="M528.6,662.5 Q536,667.8 538.2,676.8" stroke-width="0.9"/>
<path d="M531.4,660.6 Q538.9,666 541,674.9" stroke-width="2.0"/>
<path d="M533,659.5 Q540.4,664.9 542.6,673.8" stroke-width="0.9"/>
<path d="M535.8,657.6 Q543.3,663 545.4,671.9" stroke-width="2.0"/>
<path d="M537.4,656.6 Q544.8,662 547,670.9" stroke-width="0.9"/>
<path d="M540.2,654.7 Q547.7,660.1 549.8,669" stroke-width="2.0"/>
<path d="M541.8,653.6 Q549.2,659 551.4,667.9" stroke-width="0.9"/>
<path d="M544.6,651.8 Q552.1,657.1 554.2,666.1" stroke-width="2.0"/>
<path d="M546.2,650.7 Q553.6,656.1 555.8,665" stroke-width="0.9"/>
<path d="M549,648.8 Q556.5,654.2 558.6,663.1" stroke-width="2.0"/>
<path d="M550.6,647.8 Q558,653.1 560.2,662.1" stroke-width="0.9"/>
<path d="M553.4,645.9 Q560.9,651.2 563,660.2" stroke-width="2.0"/>
<path d="M555,644.8 Q562.4,650.2 564.6,659.1" stroke-width="0.9"/>
<path d="M557.8,642.9 Q565.3,648.3 567.4,657.2" stroke-width="2.0"/>
<path d="M559.4,641.9 Q566.8,647.2 569,656.2" stroke-width="0.9"/>
<path d="M562.2,640 Q569.7,645.4 571.8,654.3" stroke-width="2.0"/>
<path d="M563.8,638.9 Q571.2,644.3 573.4,653.2" stroke-width="0.9"/>
<path d="M566.6,637.1 Q574.1,642.4 576.2,651.3" stroke-width="2.0"/>
<path d="M568.2,636 Q575.6,641.4 577.8,650.3" stroke-width="0.9"/>
<ellipse cx="495.6" cy="694.9" rx="3.6" ry="8" stroke-width="1.2" fill="none" transform="rotate(-33.8 495.6 694.9)"/>
<ellipse cx="496.1" cy="694.5" rx="1.8" ry="4.6" stroke-width="1.6" fill="none" transform="rotate(-33.8 496.1 694.5)"/>
<line x1="491.8" y1="687.1" x2="566.6" y2="637.1" stroke-width="1.0"/>
<line x1="501.4" y1="701.3" x2="576.2" y2="651.3" stroke-width="1.0"/>
<path d="M569.4,635.2 Q579.2,639 579,649.5" stroke-width="1.8"/>
<path d="M570.3,636.4 Q578,639.8 578.2,648.2" stroke-width="1"/>
<path d="M500.8,703.2 C499.3,703.8 495.1,705.8 492,706.6 C488.9,707.4 484.9,708.1 482,708 C479.1,707.9 476.2,707.3 474.6,706 C473,704.7 472.5,701.9 472.6,700 C472.7,698.1 473.9,696 475.4,694.6 C476.9,693.2 480.6,692.3 481.6,691.8" stroke-width="3.0" fill="none"/>
<path d="M500.8,703.2 C499.3,703.8 495.1,705.8 492,706.6 C488.9,707.4 484.9,708.1 482,708 C479.1,707.9 476.2,707.3 474.6,706 C473,704.7 472.5,701.9 472.6,700 C472.7,698.1 473.9,696 475.4,694.6 C476.9,693.2 480.6,692.3 481.6,691.8" stroke="#fff" stroke-width="0.9" fill="none"/>
<path d="M576.6,649.6 C577.9,648.7 582,646 584.2,644.2 C586.4,642.4 588.5,640.6 589.6,638.6 C590.7,636.6 591,633.9 590.8,632.2 C590.6,630.5 589.5,628.9 588.6,628.2 C587.7,627.5 586,627.6 585.2,627.8 C584.4,628 583.9,629.3 583.6,629.6" stroke-width="3.0" fill="none"/>
<path d="M576.6,649.6 C577.9,648.7 582,646 584.2,644.2 C586.4,642.4 588.5,640.6 589.6,638.6 C590.7,636.6 591,633.9 590.8,632.2 C590.6,630.5 589.5,628.9 588.6,628.2 C587.7,627.5 586,627.6 585.2,627.8 C584.4,628 583.9,629.3 583.6,629.6" stroke="#fff" stroke-width="0.9" fill="none"/>
<path d="M523.8,706.7 Q531.3,712 533.4,720.9" stroke-width="2.0"/>
<path d="M525.4,705.6 Q532.8,711 535,719.9" stroke-width="0.9"/>
<path d="M528.4,703.6 Q535.8,708.9 538,717.9" stroke-width="2.0"/>
<path d="M529.9,702.5 Q537.4,707.9 539.5,716.8" stroke-width="0.9"/>
<path d="M532.9,700.5 Q540.4,705.9 542.5,714.8" stroke-width="2.0"/>
<path d="M534.5,699.5 Q542,704.8 544.1,713.7" stroke-width="0.9"/>
<path d="M537.5,697.5 Q544.9,702.8 547.1,711.7" stroke-width="2.0"/>
<path d="M539.1,696.4 Q546.5,701.7 548.7,710.7" stroke-width="0.9"/>
<path d="M542.1,694.4 Q549.5,699.7 551.7,708.7" stroke-width="2.0"/>
<path d="M543.6,693.3 Q551.1,698.7 553.2,707.6" stroke-width="0.9"/>
<path d="M546.6,691.3 Q554.1,696.7 556.2,705.6" stroke-width="2.0"/>
<path d="M548.2,690.3 Q555.7,695.6 557.8,704.5" stroke-width="0.9"/>
<path d="M551.2,688.2 Q558.6,693.6 560.8,702.5" stroke-width="2.0"/>
<path d="M552.8,687.2 Q560.2,692.5 562.4,701.5" stroke-width="0.9"/>
<path d="M555.8,685.2 Q563.2,690.5 565.4,699.4" stroke-width="2.0"/>
<path d="M557.3,684.1 Q564.8,689.5 566.9,698.4" stroke-width="0.9"/>
<path d="M560.3,682.1 Q567.8,687.4 569.9,696.4" stroke-width="2.0"/>
<path d="M561.9,681 Q569.3,686.4 571.5,695.3" stroke-width="0.9"/>
<path d="M564.9,679 Q572.3,684.4 574.5,693.3" stroke-width="2.0"/>
<path d="M566.5,678 Q573.9,683.3 576.1,692.2" stroke-width="0.9"/>
<path d="M569.4,676 Q576.9,681.3 579,690.2" stroke-width="2.0"/>
<path d="M571,674.9 Q578.5,680.2 580.6,689.2" stroke-width="0.9"/>
<path d="M574,672.9 Q581.5,678.2 583.6,687.2" stroke-width="2.0"/>
<path d="M575.6,671.8 Q583,677.2 585.2,686.1" stroke-width="0.9"/>
<path d="M578.6,669.8 Q586,675.2 588.2,684.1" stroke-width="2.0"/>
<path d="M580.2,668.8 Q587.6,674.1 589.8,683" stroke-width="0.9"/>
<path d="M583.1,666.7 Q590.6,672.1 592.7,681" stroke-width="2.0"/>
<path d="M584.7,665.7 Q592.2,671 594.3,680" stroke-width="0.9"/>
<path d="M587.7,663.7 Q595.2,669 597.3,677.9" stroke-width="2.0"/>
<path d="M589.3,662.6 Q596.7,668 598.9,676.9" stroke-width="0.9"/>
<path d="M592.3,660.6 Q599.7,666 601.9,674.9" stroke-width="2.0"/>
<path d="M593.8,659.5 Q601.3,664.9 603.4,673.8" stroke-width="0.9"/>
<path d="M596.8,657.5 Q604.3,662.9 606.4,671.8" stroke-width="2.0"/>
<path d="M598.4,656.5 Q605.9,661.8 608,670.7" stroke-width="0.9"/>
<path d="M601.4,654.5 Q608.9,659.8 611,668.7" stroke-width="2.0"/>
<path d="M603,653.4 Q610.4,658.8 612.6,667.7" stroke-width="0.9"/>
<ellipse cx="527.6" cy="714.5" rx="3.6" ry="8" stroke-width="1.2" fill="none" transform="rotate(-33.9 527.6 714.5)"/>
<ellipse cx="528.1" cy="714.1" rx="1.8" ry="4.6" stroke-width="1.6" fill="none" transform="rotate(-33.9 528.1 714.1)"/>
<line x1="523.8" y1="706.7" x2="601.4" y2="654.5" stroke-width="1.0"/>
<line x1="533.4" y1="720.9" x2="611" y2="668.7" stroke-width="1.0"/>
<path d="M604.2,652.6 Q614,656.4 613.8,666.8" stroke-width="1.8"/>
<path d="M605.1,653.8 Q612.8,657.2 613,665.6" stroke-width="1"/>
<path d="M532.6,722.8 C531.1,723.5 526.4,726 523.6,727 C520.8,728 518.1,728.9 515.6,728.8 C513.1,728.7 510,728 508.6,726.6 C507.2,725.2 507.1,722.6 507.4,720.4 C507.7,718.2 509.3,715.2 510.6,713.6 C511.9,712 514.6,711.4 515.4,711" stroke-width="3.0" fill="none"/>
<path d="M532.6,722.8 C531.1,723.5 526.4,726 523.6,727 C520.8,728 518.1,728.9 515.6,728.8 C513.1,728.7 510,728 508.6,726.6 C507.2,725.2 507.1,722.6 507.4,720.4 C507.7,718.2 509.3,715.2 510.6,713.6 C511.9,712 514.6,711.4 515.4,711" stroke="#fff" stroke-width="0.9" fill="none"/>
<path d="M611.2,667.2 C612.4,666.4 616.5,664.3 618.4,662.6 C620.3,660.9 621.6,659 622.6,657 C623.6,655 624.4,652.2 624.4,650.6 C624.4,649 623.4,648.1 622.6,647.6 C621.8,647.1 620.2,647.1 619.4,647.4 C618.6,647.7 618.1,649.2 617.8,649.6" stroke-width="3.0" fill="none"/>
<path d="M611.2,667.2 C612.4,666.4 616.5,664.3 618.4,662.6 C620.3,660.9 621.6,659 622.6,657 C623.6,655 624.4,652.2 624.4,650.6 C624.4,649 623.4,648.1 622.6,647.6 C621.8,647.1 620.2,647.1 619.4,647.4 C618.6,647.7 618.1,649.2 617.8,649.6" stroke="#fff" stroke-width="0.9" fill="none"/>
<path d="M592.2,638.9 L674,638.9 L674,669 L618.5,669" stroke-width="2" fill="none"/>
<line x1="674" y1="653.4" x2="692.2" y2="653.4" stroke-width="2"/>
<path d="M446.5,722.8 L414,747.8" stroke-width="2" fill="none"/>
<path d="M414,747.8 C413.8,748.6 412.8,751 412.7,752.7 C412.6,754.4 412.4,756.1 413.2,757.9 C414,759.6 415.7,761.6 417.6,763.2 C419.5,764.8 422,766.5 424.6,767.6 C427.2,768.7 430.2,769.4 433.4,769.8 C436.6,770.2 441.1,770 443.9,769.8 C446.7,769.6 449,768.7 450,768.5" stroke-width="2" fill="none"/>
<path d="M450,768.5 L486.9,741.3" stroke-width="2" fill="none"/>
<path d="M486.9,741.3 C487.2,741.5 487.7,742.4 488.6,742.6 C489.5,742.8 491.4,743 492.5,742.5 C493.6,742 494.7,740.6 495.5,739.6 C496.3,738.6 497.2,737.9 497.4,736.6 C497.6,735.3 497.4,733 496.9,731.7 C496.4,730.4 494.9,729.2 494.5,728.7" stroke-width="2" fill="none"/>
<path d="M494.5,728.7 L471.2,713.4 L467.3,713.4 L464.3,714.6 L461.4,715.9 L457.9,713.4 L453.5,718.3" stroke-width="2" fill="none"/>
<path d="M461.4,716.6 L487.8,737.4" stroke-width="2.6" fill="none"/>
<path d="M466.6,715.4 L494.2,733.8" stroke-width="1" fill="none"/>
<path d="M469.8,717.8 L473.5,717.6 L476.7,721.5 L473,723.3 Z M481.6,726.2 L485.5,726.4 L489.5,730 L486,731.7 Z" fill="#000" stroke="none"/>
<path d="M452.7,764.1 L486.9,738.6" stroke-width="1.4" fill="none" stroke-dasharray="2 1.4"/>
<path d="M414.5,755.3 C415.3,756.3 416.7,759.8 419.3,761.5 C421.9,763.2 426.2,764.9 429.9,765.8 C433.6,766.7 437.9,766.8 441.3,766.7 C444.7,766.6 448.1,765.8 450,765.4 C451.9,765 452.2,764.3 452.7,764.1" stroke-width="1" fill="none"/>
<path d="M438.6,749.2 C437.7,748.7 435.1,746.5 433.4,746.1 C431.6,745.7 429.4,746 428.1,747 C426.8,748 425.8,750.1 425.5,751.8 C425.2,753.5 425.3,755.6 426.3,757.1 C427.3,758.6 429.7,760.1 431.6,760.6 C433.5,761.1 436.3,760.5 437.8,760.1 C439.3,759.7 440,758.4 440.4,758" stroke-width="2" fill="none"/>
<path d="M429,750.4 C429.6,750.1 431.3,748.6 432.5,748.4 C433.7,748.2 435.4,749.1 436,749.2" stroke-width="2" fill="none"/>
<ellipse cx="445" cy="752.4" rx="3.6" ry="4.6" stroke-width="1.8" fill="none"/>
<line x1="374.3" y1="754.1" x2="408" y2="754.1" stroke-width="2"/>
<path d="M141.6,468.4 C142.1,467.7 141.8,466.5 144.5,464.4 C147.2,462.3 153.2,458.9 158,456 C162.8,453.1 169.4,448.7 173.5,447.2 C177.6,445.7 180.7,446.7 182.7,447 C184.7,447.3 184.9,448.8 185.3,449.2" stroke-width="2" fill="none"/>
<path d="M185.3,449.2 L214.2,471.2" stroke-width="2" fill="none"/>
<path d="M141.6,468.4 C141.5,470 141,474.8 140.8,478 C140.6,481.2 140.2,485.3 140.6,487.4 C141,489.5 142.8,490.1 143.2,490.7" stroke-width="2" fill="none"/>
<path d="M143.2,490.7 L175.4,513.8 L177.4,513.8 L186.6,507.8" stroke-width="2" fill="none"/>
<path d="M141.9,469.4 L176.8,492.7 L213.8,472.3" stroke-width="1" fill="none"/>
<path d="M176.8,492.7 L176.8,513.6" stroke-width="1" fill="none"/>
<path d="M214.2,471.2 L214.2,491.4" stroke-width="2" fill="none"/>
<path d="M179.4,495.3 L210.3,478.2 L210.3,492.7 L180,504.5 L179.4,495.3" stroke-width="2" fill="none"/>
<path d="M181.2,497.4 L208.4,482" stroke-width="1" fill="none"/>
<line x1="190" y1="493" x2="219" y2="507" stroke-width="0.9"/>
<line x1="192" y1="496" x2="218" y2="510" stroke-width="0.9"/>
<line x1="186" y1="505" x2="215" y2="515" stroke-width="0.9"/>
<line x1="188" y1="507" x2="214" y2="517" stroke-width="0.9"/>
<line x1="205" y1="483" x2="220" y2="504" stroke-width="0.9"/>
<line x1="207" y1="481" x2="222" y2="503" stroke-width="0.9"/>
<path d="M218.6,520.8 C217.8,520.6 214.8,520.1 213.6,519.4 C212.4,518.7 211.8,518.2 211.6,516.6 C211.4,515 211.8,511.9 212.4,510 C213,508.1 214.1,506.4 215.4,505 C216.7,503.6 218.3,502.1 220,501.4 C221.7,500.7 224.1,500.4 225.4,500.6 C226.7,500.8 227.4,502.1 227.8,502.4" stroke-width="2" fill="none"/>
<path d="M222.6,503.6 C222.2,504.3 220.6,506.3 220,508 C219.4,509.7 219.1,511.9 219,514 C218.9,516.1 219.2,519.5 219.2,520.6" stroke-width="1" fill="none"/>
<path d="M227.8,502.4 L281,536.6" stroke-width="2" fill="none"/>
<path d="M219.2,520.8 L272.4,556.2" stroke-width="2" fill="none"/>
<path d="M281,536.5 C281.7,536.3 283.6,535.6 285,535.5 C286.4,535.4 288.7,535.6 289.4,535.6" stroke-width="2" fill="none"/>
<path d="M289.4,535.6 L310.4,546" stroke-width="2" fill="none"/>
<path d="M281,536.5 C280.2,537.2 277.5,539.1 276,541 C274.5,542.9 273,545.8 272.2,548 C271.4,550.2 271.2,551.9 271.2,554 C271.2,556.1 272.2,559.5 272.4,560.6" stroke-width="2" fill="none"/>
<path d="M272.4,560.6 C273.3,561.5 275.9,564.4 278,566 C280.1,567.6 284,569.3 285.2,570" stroke-width="2" fill="none"/>
<path d="M281.6,551 C282.2,550.1 283.4,547.2 285,545.6 C286.6,544 290,542.1 291,541.4" stroke-width="1" fill="none"/>
<path d="M286.6,556 C287.2,554.9 288.7,551.5 290.4,549.6 C292.1,547.7 295.9,545.4 297,544.6" stroke-width="2.2" fill="none"/>
<path d="M290.6,559.6 C291.3,558.5 292.9,554.9 294.6,553 C296.3,551.1 299.9,549.2 301,548.4" stroke-width="1" fill="none"/>
<path d="M310.4,546 L317.7,549.1 L318.2,551.6 L293,579 L289,578.6 L285.2,574.3 L285.6,571.6 L310.4,546" stroke-width="2" fill="none"/>
<path d="M314.6,549.6 L290.4,576.4" stroke-width="1" fill="none"/>
<path d="M318.2,551.6 C318.6,552.4 319.2,555 320.5,556.5 C321.8,558 323.9,559.9 325.8,560.7 C327.7,561.5 330.7,561.4 332.1,561.2 C333.5,561 333.9,559.9 334.2,559.6" stroke-width="2" fill="none"/>
<path d="M334.2,559.6 L337.4,549.1 L340.5,550.2 L351,555.9" stroke-width="2" fill="none"/>
<path d="M339.5,549.2 L338.6,559.6" stroke-width="1" fill="none"/>
<path d="M294.5,577.4 C297.4,578.7 306.6,583.7 312.2,585.3 C317.8,586.9 324.8,586.3 327.9,586.9 C331,587.5 329.7,587.4 331.1,589 C332.5,590.6 333.7,593.9 336.3,596.3 C338.9,598.6 343,601.4 346.8,603.1 C350.6,604.9 355.2,606.3 359.4,606.8 C363.6,607.2 369.2,606.5 372,605.8 C374.8,605.1 374.4,605.2 376.2,602.6 C377.9,600 381.1,593.1 382.5,590 C383.9,586.9 384.2,584.8 384.6,583.7" stroke-width="2" fill="none"/>
<path d="M303.5,566 L316.4,575.4 L332.1,576.9" stroke-width="1" fill="none"/>
<path d="M316.4,575.4 L314.3,585.3" stroke-width="1" fill="none"/>
<path d="M333.2,577.5 L332.1,588" stroke-width="1" fill="none"/>
<path d="M336,570.4 C336.4,569 336.4,563.7 338.4,561.7 C340.4,559.7 344.4,559 347.9,558.4 C351.4,557.8 355.7,557.5 359.4,557.8 C363.1,558.1 366.6,559 369.9,560.4 C373.2,561.8 377.4,564.5 379.3,566.4 C381.2,568.3 380.7,571.1 381,572" stroke-width="2" fill="none"/>
<ellipse cx="361.8" cy="574" rx="16.8" ry="11.6" stroke-width="2" fill="none" transform="rotate(4 361.8 574)"/>
<ellipse cx="361.8" cy="574.4" rx="9.6" ry="6.4" stroke-width="2.6" fill="none" transform="rotate(6 361.8 574.4)"/>
<path d="M337.6,579.2 C338.3,580.2 340.1,583.4 342,585.4 C343.9,587.4 347.8,590.1 348.9,591.1" stroke-width="1" fill="none"/>
<path d="M365.7,592.1 C367.1,592 371.4,591.8 374,591.4 C376.6,591 380.2,590.2 381.4,590" stroke-width="1" fill="none"/>
<path d="M380.4,572.2 L385.6,559.6 L390.4,558.6 L393,561.2 L388.3,577.5 L384.6,583.7" stroke-width="2" fill="none"/>
<line x1="388.6" y1="560.6" x2="383.4" y2="575" stroke-width="1"/>
<line x1="228" y1="539.5" x2="228" y2="577" stroke-width="2"/>
<circle cx="722.5" cy="165.3" r="23.3" stroke-width="2" fill="#fff"/>
<path d="M715.6,154.2 L718.1,154.2 L718.1,175 L714.1,175 L714.1,162.1 L709.2,162.1 L709.2,159.5 L712,159.3Z" fill="#000" stroke="none"/>
<path d="M732.9,154.2 L735.4,154.2 L735.4,175 L731.4,175 L731.4,162.1 L726.5,162.1 L726.5,159.5 L729.3,159.3Z" fill="#000" stroke="none"/>
<circle cx="771.1" cy="178.6" r="23.3" stroke-width="2" fill="#fff"/>
<path d="M764.1,168.4 L766.6,168.4 L766.6,188.8 L762.6,188.8 L762.6,176.3 L757.7,176.3 L757.7,173.7 L760.5,173.5Z" fill="#000" stroke="none"/>
<circle cx="480.5" cy="299.5" r="23.3" stroke-width="2" fill="#fff"/>
<path d="M474.5,287.9 L477,287.9 L477,309 L473,309 L473,295.8 L468.1,295.8 L468.1,293.2 L470.9,293Z" fill="#000" stroke="none"/>
<path d="M491.4,287.9 L493.9,287.9 L493.9,309 L489.9,309 L489.9,295.8 L485,295.8 L485,293.2 L487.8,293Z" fill="#000" stroke="none"/>
<circle cx="528" cy="313.6" r="23.3" stroke-width="2" fill="#fff"/>
<path d="M521.5,303 L524,303 L524,322.3 L520,322.3 L520,310.9 L515.1,310.9 L515.1,308.3 L517.9,308.1Z" fill="#000" stroke="none"/>
<circle cx="708.4" cy="350.3" r="23.3" stroke-width="2" fill="#fff"/>
<circle cx="773.6" cy="356.8" r="23.3" stroke-width="2" fill="#fff"/>
<path d="M767.2,346.4 L769.7,346.4 L769.7,367.2 L765.7,367.2 L765.7,354.3 L760.8,354.3 L760.8,351.7 L763.6,351.5Z" fill="#000" stroke="none"/>
<circle cx="752.6" cy="402.5" r="23.3" stroke-width="2" fill="#fff"/>
<circle cx="682.9" cy="553.4" r="23.3" stroke-width="2" fill="#fff"/>
<circle cx="661.1" cy="597.5" r="23.3" stroke-width="2" fill="#fff"/>
<path d="M575.5,274.9 L578,274.9 L578,295.8 L574,295.8 L574,282.8 L569.1,282.8 L569.1,280.2 L571.9,280Z" fill="#000" stroke="none"/>
</g>
<g font-family="Liberation Sans" font-weight="bold" fill="#000">
<text x="1187.2" y="527" font-size="31">3</text>
<text x="1186.9" y="600" font-size="31">2</text>
<text x="1067.7" y="671.8" font-size="31">9</text>
<text x="1186.9" y="673.3" font-size="31">0</text>
<text x="965" y="744.8" font-size="31">7</text>
<text x="862.8" y="820.3" font-size="31">2</text>
<text x="965" y="820" font-size="31">6</text>
<text x="773.3" y="189.8" font-size="31">2</text>
<text x="530" y="323.3" font-size="31">3</text>
<text x="709.7" y="360.7" font-size="31" text-anchor="middle">2</text>
<text x="776.3" y="368.2" font-size="31">0</text>
<text x="753.9" y="412.9" font-size="31" text-anchor="middle">9</text>
<text x="684.2" y="563.8" font-size="31" text-anchor="middle">6</text>
<text x="662.4" y="607.9" font-size="31" text-anchor="middle">7</text>
<text x="1071" y="315.2" font-size="31">3</text>
<text x="699.5" y="664.6" font-size="31">4</text>
<text x="351.5" y="765" font-size="31">5</text>
<text x="222" y="608.6" font-size="31">8</text>
</g>
<text x="1063" y="888" font-family="Liberation Sans" font-size="19" fill="#000" stroke="#fff" stroke-width="0.55" textLength="92" lengthAdjust="spacingAndGlyphs">00096923</text>
</svg>
<div class="t1">позначка 1</div>
<div class="t2">motokvartal.com.ua (46537658245)</div>
</body></html>
